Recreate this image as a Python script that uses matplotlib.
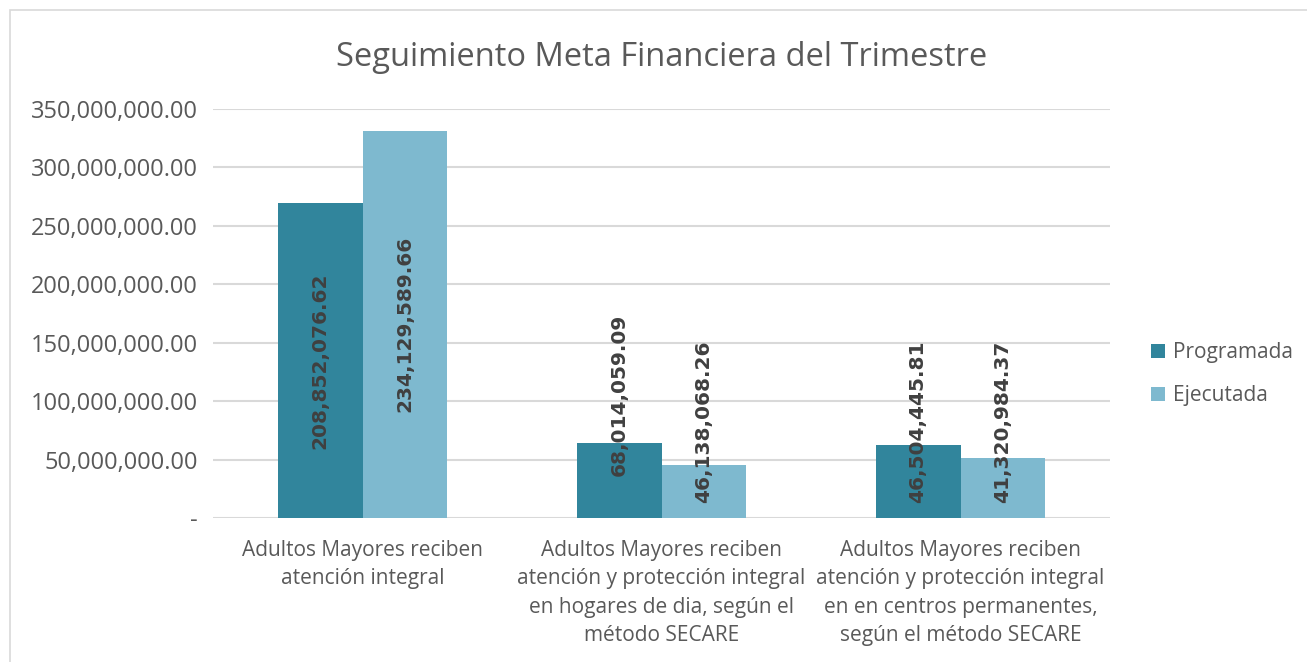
import numpy as np
import matplotlib
matplotlib.use("Agg")
import matplotlib.pyplot as plt
from matplotlib.patches import Rectangle
from matplotlib.ticker import FuncFormatter

# --- Datos ---
categorias = [
    "Adultos Mayores reciben\natención integral",
    "Adultos Mayores reciben\natención y protección integral\nen hogares de dia, según el\nmétodo SECARE",
    "Adultos Mayores reciben\natención y protección integral\nen en centros permanentes,\nsegún el método SECARE",
]
programada = [269_300_000, 64_400_000, 62_700_000]
ejecutada = [331_400_000, 45_100_000, 51_600_000]
etiquetas_programada = ["208,852,076.62", "68,014,059.09", "46,504,445.81"]
etiquetas_ejecutada = ["234,129,589.66", "46,138,068.26", "41,320,984.37"]
series = ["Programada", "Ejecutada"]
titulo = "Seguimiento Meta Financiera del Trimestre"

# --- Estilo ---
FONTE = ["Open Sans", "DejaVu Sans"]
COR_PROG = "#31859C"
COR_EJEC = "#7EB9CF"
COR_TEXTO = "#595959"
COR_LABEL = "#404040"
plt.rcParams["font.family"] = FONTE

fig = plt.figure(figsize=(13.07, 6.62), dpi=100)
fig.patches.append(Rectangle((10 / 1307, -0.1), 1.2, 1 - 10 / 662 + 0.1,
                             transform=fig.transFigure, fill=False,
                             edgecolor="#D9D9D9", linewidth=1.2))
ax = fig.add_axes([213 / 1307, 1 - 518 / 662, (1110 - 213) / 1307, (518 - 109) / 662])

x = np.arange(len(categorias))
w = 0.284
b1 = ax.bar(x - w / 2, programada, w, color=COR_PROG, label=series[0], zorder=3)
b2 = ax.bar(x + w / 2, ejecutada, w, color=COR_EJEC, label=series[1], zorder=3)

ax.set_xlim(-0.5, 2.5)
ax.set_ylim(0, 350_000_000)
ax.set_yticks(np.arange(0, 350_000_001, 50_000_000))
ax.yaxis.set_major_formatter(FuncFormatter(lambda v, p: "-" if v == 0 else f"{v:,.2f}"))
ax.set_xticks(x)
ax.set_xticklabels(categorias, fontsize=15, color=COR_TEXTO, linespacing=1.45, va="top")
ax.tick_params(axis="y", length=0, labelsize=17, colors=COR_TEXTO, pad=11)
ax.tick_params(axis="x", length=0, colors=COR_TEXTO, pad=16)
ax.grid(axis="y", color="#D9D9D9", linewidth=1.5, zorder=0)
for s in ax.spines.values():
    s.set_visible(False)

# rótulos de dados (girados); os que não cabem sobem
ajuste = [0, 19, 0]
for i in range(len(categorias)):
    for barras, vals, txts, dx in ((b1, programada, etiquetas_programada, -w / 2),
                                   (b2, ejecutada, etiquetas_ejecutada, w / 2)):
        h = vals[i]
        if h > 150_000_000:
            ax.text(x[i] + dx, h / 2, txts[i], rotation=90, ha="center", va="center",
                    fontsize=14.5, fontweight="bold", color=COR_LABEL, zorder=4,
                    family=["DejaVu Sans"])
        else:
            extra = ajuste[i] if barras is b1 else 0
            ax.annotate(txts[i], (x[i] + dx, 0), xytext=(0, 11 + extra),
                        textcoords="offset points", rotation=90, ha="center",
                        va="bottom", fontsize=14.5, fontweight="bold",
                        color=COR_LABEL, zorder=4, family=["DejaVu Sans"])

fig.text(662 / 1307, 1 - 57 / 662, titulo, ha="center", va="center",
         fontsize=23.5, color=COR_TEXTO)

leg = ax.legend(loc="center left", bbox_to_anchor=(1.025, 0.352), frameon=False,
                fontsize=15, labelcolor=COR_TEXTO, handlelength=0.65,
                handleheight=0.65, handletextpad=0.4, labelspacing=1.05)

fig.savefig("out.png", dpi=100)
